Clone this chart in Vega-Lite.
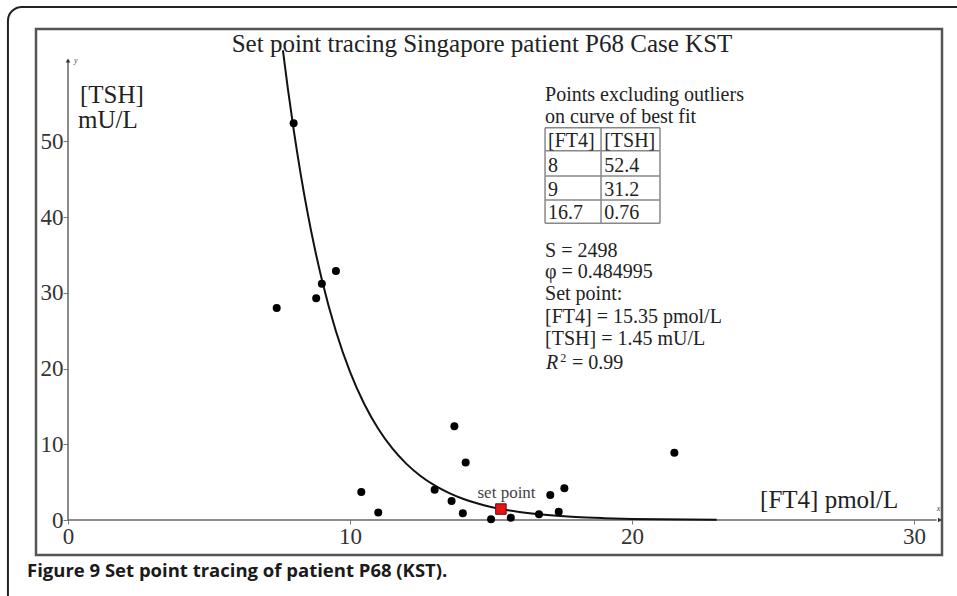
{
  "$schema": "https://vega.github.io/schema/vega-lite/v6.json",
  "width": 906,
  "height": 526,
  "autosize": {"type": "none"},
  "padding": {"left": 36, "top": 29, "right": 15, "bottom": 41},
  "background": "white",
  "config": {"view": {"stroke": "#555", "strokeWidth": 2.5}, "font": "Liberation Serif"},
  "datasets": {
    "frame": [{"x": -2.13, "x2": 34, "y": 67.77, "y2": -12}],
    "grid": [
      {"x": 16.915, "x2": 20.99, "y": 51.82, "y2": 51.82},
      {"x": 16.915, "x2": 20.99, "y": 48.78, "y2": 48.78},
      {"x": 16.915, "x2": 20.99, "y": 45.44, "y2": 45.44},
      {"x": 16.915, "x2": 20.99, "y": 42.27, "y2": 42.27},
      {"x": 16.915, "x2": 20.99, "y": 39.19, "y2": 39.19},
      {"x": 16.915, "x2": 16.915, "y": 51.82, "y2": 39.19},
      {"x": 18.9, "x2": 18.9, "y": 51.82, "y2": 39.19},
      {"x": 20.99, "x2": 20.99, "y": 51.82, "y2": 39.19}
    ],
    "axlines": [
      {"x": 0, "x2": 0, "y": 0, "y2": 60.5},
      {"x": 0, "x2": 30.8, "y": 0, "y2": 0}
    ],
    "arrowUp": [{"x": 0, "y": 60.7}],
    "arrowRight": [{"x": 30.92, "y": 0}],
    "curve": [
      {"x": 7.62, "y": 62.05}, {"x": 7.8, "y": 56.86}, {"x": 8, "y": 51.59}, {"x": 8.25, "y": 45.7},
      {"x": 8.5, "y": 40.48}, {"x": 8.75, "y": 35.86}, {"x": 9, "y": 31.77}, {"x": 9.5, "y": 24.93},
      {"x": 10, "y": 19.56}, {"x": 10.5, "y": 15.35}, {"x": 11, "y": 12.05}, {"x": 11.5, "y": 9.45},
      {"x": 12, "y": 7.42}, {"x": 12.5, "y": 5.82}, {"x": 13, "y": 4.57}, {"x": 13.5, "y": 3.58},
      {"x": 14, "y": 2.81}, {"x": 14.5, "y": 2.21}, {"x": 15, "y": 1.73}, {"x": 15.5, "y": 1.36},
      {"x": 16, "y": 1.07}, {"x": 17, "y": 0.66}, {"x": 18, "y": 0.4}, {"x": 19, "y": 0.25},
      {"x": 20, "y": 0.15}, {"x": 21, "y": 0.09}, {"x": 22, "y": 0.06}, {"x": 23, "y": 0.04}
    ],
    "pts": [
      {"x": 8, "y": 52.4}, {"x": 9, "y": 31.2}, {"x": 9.5, "y": 32.9}, {"x": 8.8, "y": 29.3},
      {"x": 7.4, "y": 28.0}, {"x": 10.4, "y": 3.7}, {"x": 11.0, "y": 1.0}, {"x": 13.0, "y": 4.0},
      {"x": 13.6, "y": 2.5}, {"x": 13.7, "y": 12.4}, {"x": 14.0, "y": 0.9}, {"x": 14.1, "y": 7.6},
      {"x": 15.0, "y": 0.1}, {"x": 15.7, "y": 0.3}, {"x": 16.7, "y": 0.76}, {"x": 17.1, "y": 3.3},
      {"x": 17.4, "y": 1.1}, {"x": 17.6, "y": 4.2}, {"x": 21.5, "y": 8.9}
    ],
    "setpt": [{"x": 15.35, "y": 1.45}],
    "title": [{"x": 14.68, "y": 61.86, "label": "Set point tracing Singapore patient P68 Case KST"}],
    "big": [
      {"x": 0.426, "y": 55.09, "label": "[TSH]"},
      {"x": 0.355, "y": 51.78, "label": "mU/L"},
      {"x": 24.54, "y": 1.59, "label": "[FT4] pmol/L"}
    ],
    "block": [
      {"x": 16.915, "y": 55.35, "label": "Points excluding outliers"},
      {"x": 16.915, "y": 52.44, "label": "on curve of best fit"},
      {"x": 17.02, "y": 49.27, "label": "[FT4]"},
      {"x": 19.01, "y": 49.27, "label": "[TSH]"},
      {"x": 17.02, "y": 45.97, "label": "8"},
      {"x": 19.01, "y": 45.97, "label": "52.4"},
      {"x": 17.02, "y": 42.8, "label": "9"},
      {"x": 19.01, "y": 42.8, "label": "31.2"},
      {"x": 17.02, "y": 39.76, "label": "16.7"},
      {"x": 19.01, "y": 39.76, "label": "0.76"},
      {"x": 16.915, "y": 34.78, "label": "S = 2498"},
      {"x": 16.915, "y": 31.97, "label": "φ = 0.484995"},
      {"x": 16.915, "y": 29.06, "label": "Set point:"},
      {"x": 16.915, "y": 26.02, "label": "[FT4] = 15.35 pmol/L"},
      {"x": 16.915, "y": 23.12, "label": "[TSH] = 1.45 mU/L"},
      {"x": 17.87, "y": 19.95, "label": "= 0.99"}
    ],
    "rital": [{"x": 16.95, "y": 19.95, "label": "R"}],
    "sup": [{"x": 17.45, "y": 20.9, "label": "2"}],
    "setlab": [{"x": 15.55, "y": 2.9, "label": "set point"}],
    "axletters": [{"x": 0.21, "y": 60.4, "label": "y"}, {"x": 30.8, "y": 1.2, "label": "x"}],
    "caption": [{"x": -1.454, "y": -7.49, "label": "Figure 9 Set point tracing of patient P68 (KST)."}]
  },
  "encoding": {
    "x": {
      "field": "x", "type": "quantitative",
      "scale": {"domain": [-1.135, 30.99], "nice": false, "zero": false},
      "axis": {"values": [0, 10, 20, 30], "offset": -35, "domain": false, "grid": false, "title": null,
        "tickSize": 4, "tickColor": "#777", "labelFont": "Liberation Serif", "labelFontSize": 23,
        "labelColor": "#333", "labelPadding": 1, "labelFlush": false, "labelOverlap": false}
    },
    "y": {
      "field": "y", "type": "quantitative",
      "scale": {"domain": [-4.62, 64.86], "nice": false, "zero": false},
      "axis": {"values": [0, 10, 20, 30, 40, 50], "offset": -32, "domain": false, "grid": false, "title": null,
        "tickSize": 5, "tickColor": "#777", "labelFont": "Liberation Serif", "labelFontSize": 23,
        "labelColor": "#333", "labelPadding": 0, "labelFlush": false, "labelOverlap": false}
    }
  },
  "layer": [
    {
      "data": {"name": "frame"},
      "mark": {"type": "rect", "fillOpacity": 0, "stroke": "#222", "strokeWidth": 2, "cornerRadius": 14, "clip": false},
      "encoding": {"x2": {"field": "x2"}, "y2": {"field": "y2"}}
    },
    {
      "data": {"name": "grid"},
      "mark": {"type": "rule", "color": "#888", "strokeWidth": 1.5},
      "encoding": {"x2": {"field": "x2"}, "y2": {"field": "y2"}}
    },
    {
      "data": {"name": "axlines"},
      "mark": {"type": "rule", "color": "#666", "strokeWidth": 1.5},
      "encoding": {"x2": {"field": "x2"}, "y2": {"field": "y2"}}
    },
    {
      "data": {"name": "arrowUp"},
      "mark": {"type": "point", "shape": "triangle-up", "filled": true, "color": "#333", "size": 22, "opacity": 1}
    },
    {
      "data": {"name": "arrowRight"},
      "mark": {"type": "point", "shape": "triangle-right", "filled": true, "color": "#333", "size": 22, "opacity": 1}
    },
    {
      "data": {"name": "curve"},
      "mark": {"type": "line", "color": "#111", "strokeWidth": 2, "interpolate": "monotone"}
    },
    {
      "data": {"name": "pts"},
      "mark": {"type": "point", "shape": "circle", "filled": true, "color": "#000", "size": 64, "opacity": 1}
    },
    {
      "data": {"name": "setpt"},
      "mark": {"type": "point", "shape": "square", "filled": true, "fill": "#ee1111", "stroke": "#551111", "strokeWidth": 1, "size": 110, "opacity": 1}
    },
    {
      "data": {"name": "title"},
      "mark": {"type": "text", "font": "Liberation Serif", "fontSize": 25, "align": "center", "baseline": "alphabetic", "color": "#222"},
      "encoding": {"text": {"field": "label"}}
    },
    {
      "data": {"name": "big"},
      "mark": {"type": "text", "font": "Liberation Serif", "fontSize": 25, "align": "left", "baseline": "alphabetic", "color": "#222"},
      "encoding": {"text": {"field": "label"}}
    },
    {
      "data": {"name": "block"},
      "mark": {"type": "text", "font": "Liberation Serif", "fontSize": 20, "align": "left", "baseline": "alphabetic", "color": "#222"},
      "encoding": {"text": {"field": "label"}}
    },
    {
      "data": {"name": "rital"},
      "mark": {"type": "text", "font": "Liberation Serif", "fontSize": 20, "fontStyle": "italic", "align": "left", "baseline": "alphabetic", "color": "#222"},
      "encoding": {"text": {"field": "label"}}
    },
    {
      "data": {"name": "sup"},
      "mark": {"type": "text", "font": "Liberation Serif", "fontSize": 12, "align": "left", "baseline": "alphabetic", "color": "#222"},
      "encoding": {"text": {"field": "label"}}
    },
    {
      "data": {"name": "setlab"},
      "mark": {"type": "text", "font": "Liberation Serif", "fontSize": 17, "align": "center", "baseline": "alphabetic", "color": "#444"},
      "encoding": {"text": {"field": "label"}}
    },
    {
      "data": {"name": "axletters"},
      "mark": {"type": "text", "font": "Liberation Serif", "fontSize": 8, "fontStyle": "italic", "align": "left", "baseline": "alphabetic", "color": "#444"},
      "encoding": {"text": {"field": "label"}}
    },
    {
      "data": {"name": "caption"},
      "mark": {"type": "text", "font": "Open Sans", "fontSize": 18.5, "fontWeight": "bold", "align": "left", "baseline": "alphabetic", "color": "#1a1a1a", "clip": false},
      "encoding": {"text": {"field": "label"}}
    }
  ]
}
